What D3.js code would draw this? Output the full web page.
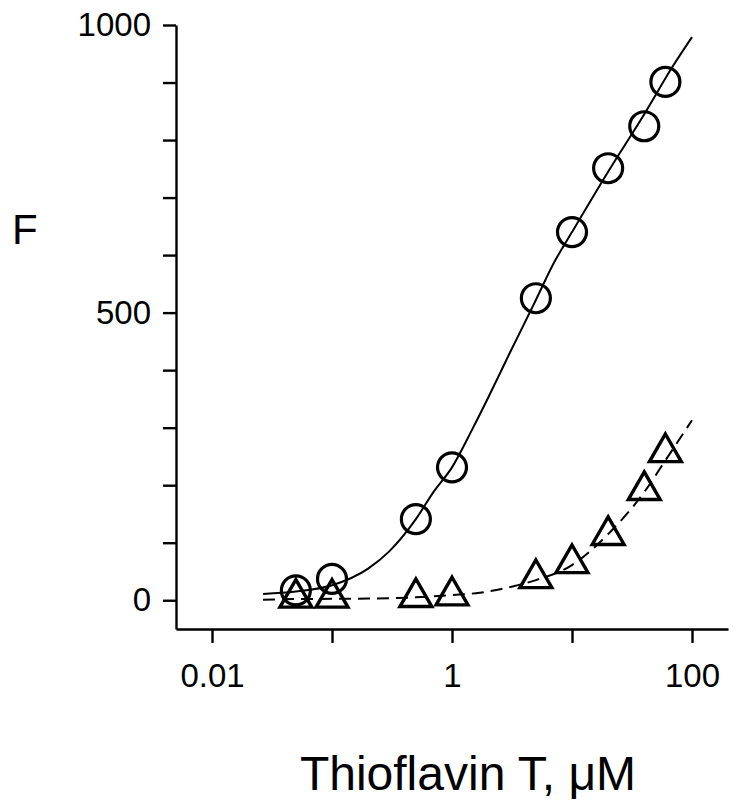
<!DOCTYPE html>
<html>
<head>
<meta charset="utf-8">
<script src="https://cdn.jsdelivr.net/npm/d3@7"></script>
<style>
  body { margin: 0; background: #fff; }
  svg { font-family: "Liberation Sans", Arial, sans-serif; }
</style>
</head>
<body>
<div id="chart-area"></div>
<script>
// measured points (Thioflavin T, uM)
var conc = [0.05, 0.1, 0.5, 1, 5, 10, 20, 40, 60];
var circleF = [17, 37, 141, 231, 525, 640, 751, 824, 901];
var triangleF = [4, 4, 5, 8, 38, 64, 113, 191, 257];

// fitted curves
var solidC = [0.0266, 0.05, 0.1, 0.2, 0.3, 0.5, 0.7, 1, 1.5, 2, 3, 5, 7, 10, 20, 40, 70, 100];
var solidF = [11, 15, 26, 55, 85, 141, 188, 231, 300, 352, 428, 522, 585, 640, 745, 845, 930, 979];
var dashC = [0.0266, 0.05, 0.1, 0.2, 0.5, 1, 1.7, 3.2, 5, 10, 20, 40, 60, 100];
var dashF = [1, 2, 2.5, 3, 5, 9, 13, 24, 35, 61, 115, 188, 243, 313];

var xTicks = [0.01, 0.1, 1, 10, 100];
var xLabels = ['0.01', '', '1', '', '100'];
var yTicks = d3.range(0, 1001, 100);
var yLabels = [0, 500, 1000];

var W = 750, H = 803;
var svg = d3.select('#chart-area').append('svg')
  .attr('width', W).attr('height', H);

var x = d3.scaleLog().domain([Math.pow(10, -2.3), Math.pow(10, 2.3)]).range([176, 728]);
var y = d3.scaleLinear().domain([-50, 1000]).range([629, 25]);

// axes
var yAxis = d3.axisLeft(y).tickValues(yTicks).tickSizeInner(13).tickSizeOuter(0).tickPadding(12)
  .tickFormat(d => yLabels.indexOf(d) >= 0 ? d : '');
var gy = svg.append('g').attr('transform', 'translate(176,0)').call(yAxis);

var xAxis = d3.axisBottom(x).tickValues(xTicks).tickSizeInner(14).tickSizeOuter(0).tickPadding(21)
  .tickFormat((d, i) => xLabels[i]);
var gx = svg.append('g').attr('transform', 'translate(0,629)').call(xAxis);

[gx, gy].forEach(g => {
  g.select('.domain').attr('stroke', '#000').attr('stroke-width', 2.4);
  g.selectAll('.tick line').attr('stroke', '#000').attr('stroke-width', 2.4);
  g.selectAll('.tick text').attr('font-size', 33).attr('fill', '#000')
    .attr('font-family', '"Liberation Sans", Arial, sans-serif');
});

// curves
var line = d3.line().x(d => x(d[0])).y(d => y(d[1])).curve(d3.curveMonotoneX);

svg.append('path')
  .datum(solidC.map((c, i) => [c, solidF[i]]))
  .attr('d', line).attr('fill', 'none').attr('stroke', '#000').attr('stroke-width', 2);

svg.append('path')
  .datum(dashC.map((c, i) => [c, dashF[i]]))
  .attr('d', line).attr('fill', 'none').attr('stroke', '#000').attr('stroke-width', 2)
  .attr('stroke-dasharray', '12,7');

// markers
svg.selectAll('circle.pt').data(conc).enter().append('circle')
  .attr('class', 'pt')
  .attr('cx', d => x(d))
  .attr('cy', (d, i) => y(circleF[i]))
  .attr('r', 14.5)
  .attr('fill', 'none').attr('stroke', '#000').attr('stroke-width', 3.2);

var tri = d3.symbol().type(d3.symbolTriangle).size(440);
svg.selectAll('path.tri').data(conc).enter().append('path')
  .attr('class', 'tri')
  .attr('transform', (d, i) => `translate(${x(d)}, ${y(triangleF[i])})`)
  .attr('d', tri)
  .attr('fill', 'none').attr('stroke', '#000').attr('stroke-width', 3.4);

// axis titles
svg.append('text')
  .attr('x', 12).attr('y', 244)
  .attr('font-size', 42)
  .text('F');

svg.append('text')
  .attr('x', 468).attr('y', 790)
  .attr('font-size', 48)
  .attr('text-anchor', 'middle')
  .text('Thioflavin T, μM');
</script>
</body>
</html>
